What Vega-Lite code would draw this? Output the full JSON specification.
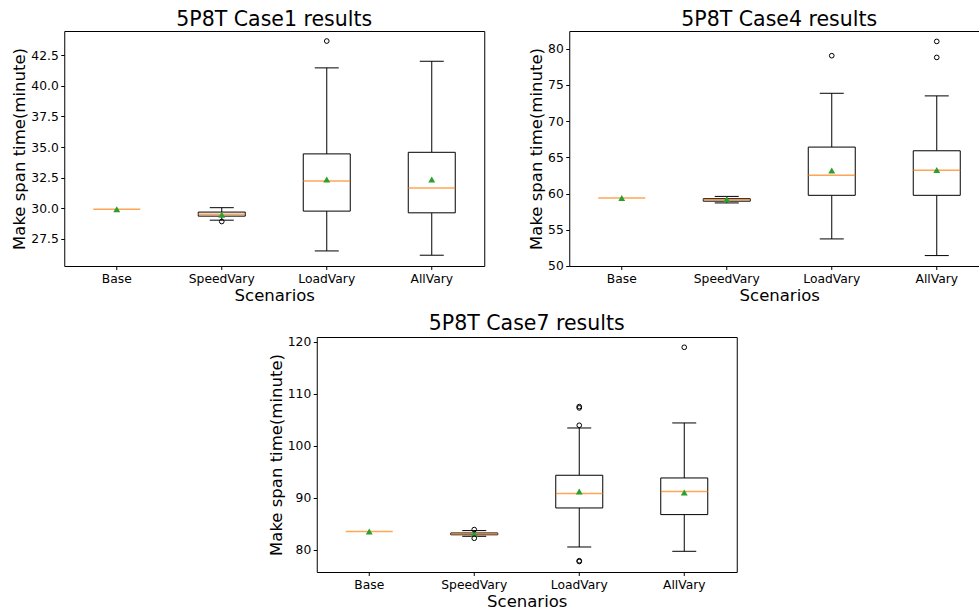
{
  "$schema": "https://vega.github.io/schema/vega-lite/v6.json",
  "padding": {"left": 11, "top": 9, "right": 0, "bottom": 0},
  "background": "white",
  "datasets": {
    "stats": [
      {"panel": 1, "scenario": "Base", "lo": 29.93, "q1": 29.93, "med": 29.93, "q3": 29.93, "hi": 29.93, "mean": 29.93},
      {"panel": 1, "scenario": "SpeedVary", "lo": 29.03, "q1": 29.36, "med": 29.52, "q3": 29.69, "hi": 30.05, "mean": 29.47},
      {"panel": 1, "scenario": "LoadVary", "lo": 26.52, "q1": 29.77, "med": 32.23, "q3": 34.44, "hi": 41.46, "mean": 32.34},
      {"panel": 1, "scenario": "AllVary", "lo": 26.17, "q1": 29.63, "med": 31.66, "q3": 34.57, "hi": 42.0, "mean": 32.34},
      {"panel": 2, "scenario": "Base", "lo": 59.38, "q1": 59.38, "med": 59.38, "q3": 59.38, "hi": 59.38, "mean": 59.38},
      {"panel": 2, "scenario": "SpeedVary", "lo": 58.7, "q1": 58.94, "med": 59.14, "q3": 59.28, "hi": 59.6, "mean": 59.2},
      {"panel": 2, "scenario": "LoadVary", "lo": 53.73, "q1": 59.75, "med": 62.52, "q3": 66.41, "hi": 73.84, "mean": 63.16},
      {"panel": 2, "scenario": "AllVary", "lo": 51.43, "q1": 59.75, "med": 63.22, "q3": 65.9, "hi": 73.48, "mean": 63.26},
      {"panel": 3, "scenario": "Base", "lo": 83.46, "q1": 83.46, "med": 83.46, "q3": 83.46, "hi": 83.46, "mean": 83.46},
      {"panel": 3, "scenario": "SpeedVary", "lo": 82.56, "q1": 82.85, "med": 83.0, "q3": 83.2, "hi": 83.66, "mean": 83.0},
      {"panel": 3, "scenario": "LoadVary", "lo": 80.5, "q1": 88.02, "med": 90.8, "q3": 94.32, "hi": 103.43, "mean": 91.18},
      {"panel": 3, "scenario": "AllVary", "lo": 79.67, "q1": 86.74, "med": 91.17, "q3": 93.8, "hi": 104.4, "mean": 90.98}
    ],
    "outliers": [
      {"panel": 1, "scenario": "SpeedVary", "value": 28.92},
      {"panel": 1, "scenario": "LoadVary", "value": 43.65},
      {"panel": 2, "scenario": "LoadVary", "value": 79.03},
      {"panel": 2, "scenario": "AllVary", "value": 81.0},
      {"panel": 2, "scenario": "AllVary", "value": 78.79},
      {"panel": 3, "scenario": "SpeedVary", "value": 83.85},
      {"panel": 3, "scenario": "SpeedVary", "value": 82.18},
      {"panel": 3, "scenario": "LoadVary", "value": 103.95},
      {"panel": 3, "scenario": "LoadVary", "value": 107.3},
      {"panel": 3, "scenario": "LoadVary", "value": 107.55},
      {"panel": 3, "scenario": "LoadVary", "value": 77.7},
      {"panel": 3, "scenario": "LoadVary", "value": 77.85},
      {"panel": 3, "scenario": "AllVary", "value": 118.98}
    ]
  },
  "vconcat": [
    {
      "hconcat": [
        {
          "title": "5P8T Case1 results",
          "width": 420,
          "height": 235,
          "data": {"name": "stats"},
          "transform": [{"filter": "datum.panel === 1"}],
          "encoding": {
            "x": {"field": "scenario", "type": "nominal", "sort": ["Base", "SpeedVary", "LoadVary", "AllVary"], "scale": {"paddingInner": 0, "paddingOuter": 0}, "title": "Scenarios", "axis": {"labelAngle": 0}}
          },
          "layer": [
            {"mark": {"type": "rule", "color": "#000", "strokeWidth": 1}, "encoding": {"y": {"field": "lo", "type": "quantitative", "scale": {"domain": [25.29, 44.47], "nice": false, "zero": false}, "title": "Make span time(minute)", "axis": {"values": [27.5, 30, 32.5, 35, 37.5, 40, 42.5], "format": ".1f"}}, "y2": {"field": "q1"}}},
            {"mark": {"type": "rule", "color": "#000", "strokeWidth": 1}, "encoding": {"y": {"field": "q3", "type": "quantitative", "title": "Make span time(minute)", "axis": {"values": [27.5, 30, 32.5, 35, 37.5, 40, 42.5], "format": ".1f"}}, "y2": {"field": "hi"}}},
            {"mark": {"type": "tick", "color": "#000", "thickness": 1, "size": 24}, "encoding": {"y": {"field": "lo", "type": "quantitative", "title": "Make span time(minute)", "axis": {"values": [27.5, 30, 32.5, 35, 37.5, 40, 42.5], "format": ".1f"}}, "opacity": {"condition": {"test": "datum.q1 > datum.lo", "value": 1}, "value": 0}}},
            {"mark": {"type": "tick", "color": "#000", "thickness": 1, "size": 24}, "encoding": {"y": {"field": "hi", "type": "quantitative", "title": "Make span time(minute)", "axis": {"values": [27.5, 30, 32.5, 35, 37.5, 40, 42.5], "format": ".1f"}}, "opacity": {"condition": {"test": "datum.hi > datum.q3", "value": 1}, "value": 0}}},
            {"mark": {"type": "bar", "fill": "white", "stroke": "#000", "strokeWidth": 1, "size": 47}, "encoding": {"y": {"field": "q1", "type": "quantitative", "title": "Make span time(minute)", "axis": {"values": [27.5, 30, 32.5, 35, 37.5, 40, 42.5], "format": ".1f"}}, "y2": {"field": "q3"}, "strokeOpacity": {"condition": {"test": "datum.q3 > datum.q1", "value": 1}, "value": 0}}},
            {"mark": {"type": "tick", "color": "#ff7f0e", "thickness": 1.5, "size": 47}, "encoding": {"y": {"field": "med", "type": "quantitative", "title": "Make span time(minute)", "axis": {"values": [27.5, 30, 32.5, 35, 37.5, 40, 42.5], "format": ".1f"}}}},
            {"mark": {"type": "point", "shape": "triangle-up", "filled": true, "color": "#2ca02c", "size": 48, "opacity": 1}, "encoding": {"y": {"field": "mean", "type": "quantitative", "title": "Make span time(minute)", "axis": {"values": [27.5, 30, 32.5, 35, 37.5, 40, 42.5], "format": ".1f"}}}},
            {"data": {"name": "outliers"}, "transform": [{"filter": "datum.panel === 1"}], "mark": {"type": "point", "shape": "circle", "filled": false, "color": "#000", "size": 22, "strokeWidth": 1, "opacity": 1}, "encoding": {"y": {"field": "value", "type": "quantitative", "title": "Make span time(minute)", "axis": {"values": [27.5, 30, 32.5, 35, 37.5, 40, 42.5], "format": ".1f"}}}}
          ]
        },
        {
          "title": "5P8T Case4 results",
          "width": 420,
          "height": 235,
          "data": {"name": "stats"},
          "transform": [{"filter": "datum.panel === 2"}],
          "encoding": {
            "x": {"field": "scenario", "type": "nominal", "sort": ["Base", "SpeedVary", "LoadVary", "AllVary"], "scale": {"paddingInner": 0, "paddingOuter": 0}, "title": "Scenarios", "axis": {"labelAngle": 0}}
          },
          "layer": [
            {"mark": {"type": "rule", "color": "#000", "strokeWidth": 1}, "encoding": {"y": {"field": "lo", "type": "quantitative", "scale": {"domain": [49.99, 82.44], "nice": false, "zero": false}, "title": "Make span time(minute)", "axis": {"values": [50, 55, 60, 65, 70, 75, 80], "format": "d"}}, "y2": {"field": "q1"}}},
            {"mark": {"type": "rule", "color": "#000", "strokeWidth": 1}, "encoding": {"y": {"field": "q3", "type": "quantitative", "title": "Make span time(minute)", "axis": {"values": [50, 55, 60, 65, 70, 75, 80], "format": "d"}}, "y2": {"field": "hi"}}},
            {"mark": {"type": "tick", "color": "#000", "thickness": 1, "size": 24}, "encoding": {"y": {"field": "lo", "type": "quantitative", "title": "Make span time(minute)", "axis": {"values": [50, 55, 60, 65, 70, 75, 80], "format": "d"}}, "opacity": {"condition": {"test": "datum.q1 > datum.lo", "value": 1}, "value": 0}}},
            {"mark": {"type": "tick", "color": "#000", "thickness": 1, "size": 24}, "encoding": {"y": {"field": "hi", "type": "quantitative", "title": "Make span time(minute)", "axis": {"values": [50, 55, 60, 65, 70, 75, 80], "format": "d"}}, "opacity": {"condition": {"test": "datum.hi > datum.q3", "value": 1}, "value": 0}}},
            {"mark": {"type": "bar", "fill": "white", "stroke": "#000", "strokeWidth": 1, "size": 47}, "encoding": {"y": {"field": "q1", "type": "quantitative", "title": "Make span time(minute)", "axis": {"values": [50, 55, 60, 65, 70, 75, 80], "format": "d"}}, "y2": {"field": "q3"}, "strokeOpacity": {"condition": {"test": "datum.q3 > datum.q1", "value": 1}, "value": 0}}},
            {"mark": {"type": "tick", "color": "#ff7f0e", "thickness": 1.5, "size": 47}, "encoding": {"y": {"field": "med", "type": "quantitative", "title": "Make span time(minute)", "axis": {"values": [50, 55, 60, 65, 70, 75, 80], "format": "d"}}}},
            {"mark": {"type": "point", "shape": "triangle-up", "filled": true, "color": "#2ca02c", "size": 48, "opacity": 1}, "encoding": {"y": {"field": "mean", "type": "quantitative", "title": "Make span time(minute)", "axis": {"values": [50, 55, 60, 65, 70, 75, 80], "format": "d"}}}},
            {"data": {"name": "outliers"}, "transform": [{"filter": "datum.panel === 2"}], "mark": {"type": "point", "shape": "circle", "filled": false, "color": "#000", "size": 22, "strokeWidth": 1, "opacity": 1}, "encoding": {"y": {"field": "value", "type": "quantitative", "title": "Make span time(minute)", "axis": {"values": [50, 55, 60, 65, 70, 75, 80], "format": "d"}}}}
          ]
        }
      ],
      "spacing": 42
    },
    {
      "title": "5P8T Case7 results",
      "width": 420,
      "height": 235,
      "data": {"name": "stats"},
      "transform": [{"filter": "datum.panel === 3"}],
      "encoding": {
        "x": {"field": "scenario", "type": "nominal", "sort": ["Base", "SpeedVary", "LoadVary", "AllVary"], "scale": {"paddingInner": 0, "paddingOuter": 0}, "title": "Scenarios", "axis": {"labelAngle": 0}}
      },
      "layer": [
        {"mark": {"type": "rule", "color": "#000", "strokeWidth": 1}, "encoding": {"y": {"field": "lo", "type": "quantitative", "scale": {"domain": [75.68, 120.96], "nice": false, "zero": false}, "title": "Make span time(minute)", "axis": {"values": [80, 90, 100, 110, 120], "format": "d"}}, "y2": {"field": "q1"}}},
        {"mark": {"type": "rule", "color": "#000", "strokeWidth": 1}, "encoding": {"y": {"field": "q3", "type": "quantitative", "title": "Make span time(minute)", "axis": {"values": [80, 90, 100, 110, 120], "format": "d"}}, "y2": {"field": "hi"}}},
        {"mark": {"type": "tick", "color": "#000", "thickness": 1, "size": 24}, "encoding": {"y": {"field": "lo", "type": "quantitative", "title": "Make span time(minute)", "axis": {"values": [80, 90, 100, 110, 120], "format": "d"}}, "opacity": {"condition": {"test": "datum.q1 > datum.lo", "value": 1}, "value": 0}}},
        {"mark": {"type": "tick", "color": "#000", "thickness": 1, "size": 24}, "encoding": {"y": {"field": "hi", "type": "quantitative", "title": "Make span time(minute)", "axis": {"values": [80, 90, 100, 110, 120], "format": "d"}}, "opacity": {"condition": {"test": "datum.hi > datum.q3", "value": 1}, "value": 0}}},
        {"mark": {"type": "bar", "fill": "white", "stroke": "#000", "strokeWidth": 1, "size": 47}, "encoding": {"y": {"field": "q1", "type": "quantitative", "title": "Make span time(minute)", "axis": {"values": [80, 90, 100, 110, 120], "format": "d"}}, "y2": {"field": "q3"}, "strokeOpacity": {"condition": {"test": "datum.q3 > datum.q1", "value": 1}, "value": 0}}},
        {"mark": {"type": "tick", "color": "#ff7f0e", "thickness": 1.5, "size": 47}, "encoding": {"y": {"field": "med", "type": "quantitative", "title": "Make span time(minute)", "axis": {"values": [80, 90, 100, 110, 120], "format": "d"}}}},
        {"mark": {"type": "point", "shape": "triangle-up", "filled": true, "color": "#2ca02c", "size": 48, "opacity": 1}, "encoding": {"y": {"field": "mean", "type": "quantitative", "title": "Make span time(minute)", "axis": {"values": [80, 90, 100, 110, 120], "format": "d"}}}},
        {"data": {"name": "outliers"}, "transform": [{"filter": "datum.panel === 3"}], "mark": {"type": "point", "shape": "circle", "filled": false, "color": "#000", "size": 22, "strokeWidth": 1, "opacity": 1}, "encoding": {"y": {"field": "value", "type": "quantitative", "title": "Make span time(minute)", "axis": {"values": [80, 90, 100, 110, 120], "format": "d"}}}}
      ]
    }
  ],
  "spacing": 8,
  "center": true,
  "config": {
    "font": "DejaVu Sans",
    "view": {"stroke": "#000", "strokeWidth": 1},
    "axis": {
      "domain": false,
      "grid": false,
      "ticks": true,
      "tickColor": "#000",
      "tickSize": 3.5,
      "tickWidth": 1,
      "labelFont": "DejaVu Sans",
      "labelFontSize": 12.3,
      "labelColor": "#000",
      "labelPadding": 2.5,
      "titleFont": "DejaVu Sans",
      "titleFontSize": 16.5,
      "titleFontWeight": "normal",
      "titleColor": "#000",
      "titlePadding": 3
    },
    "title": {"font": "DejaVu Sans", "fontSize": 20.5, "fontWeight": "normal", "color": "#000", "frame": "group", "anchor": "middle", "offset": 1, "baseline": "alphabetic"}
  }
}
